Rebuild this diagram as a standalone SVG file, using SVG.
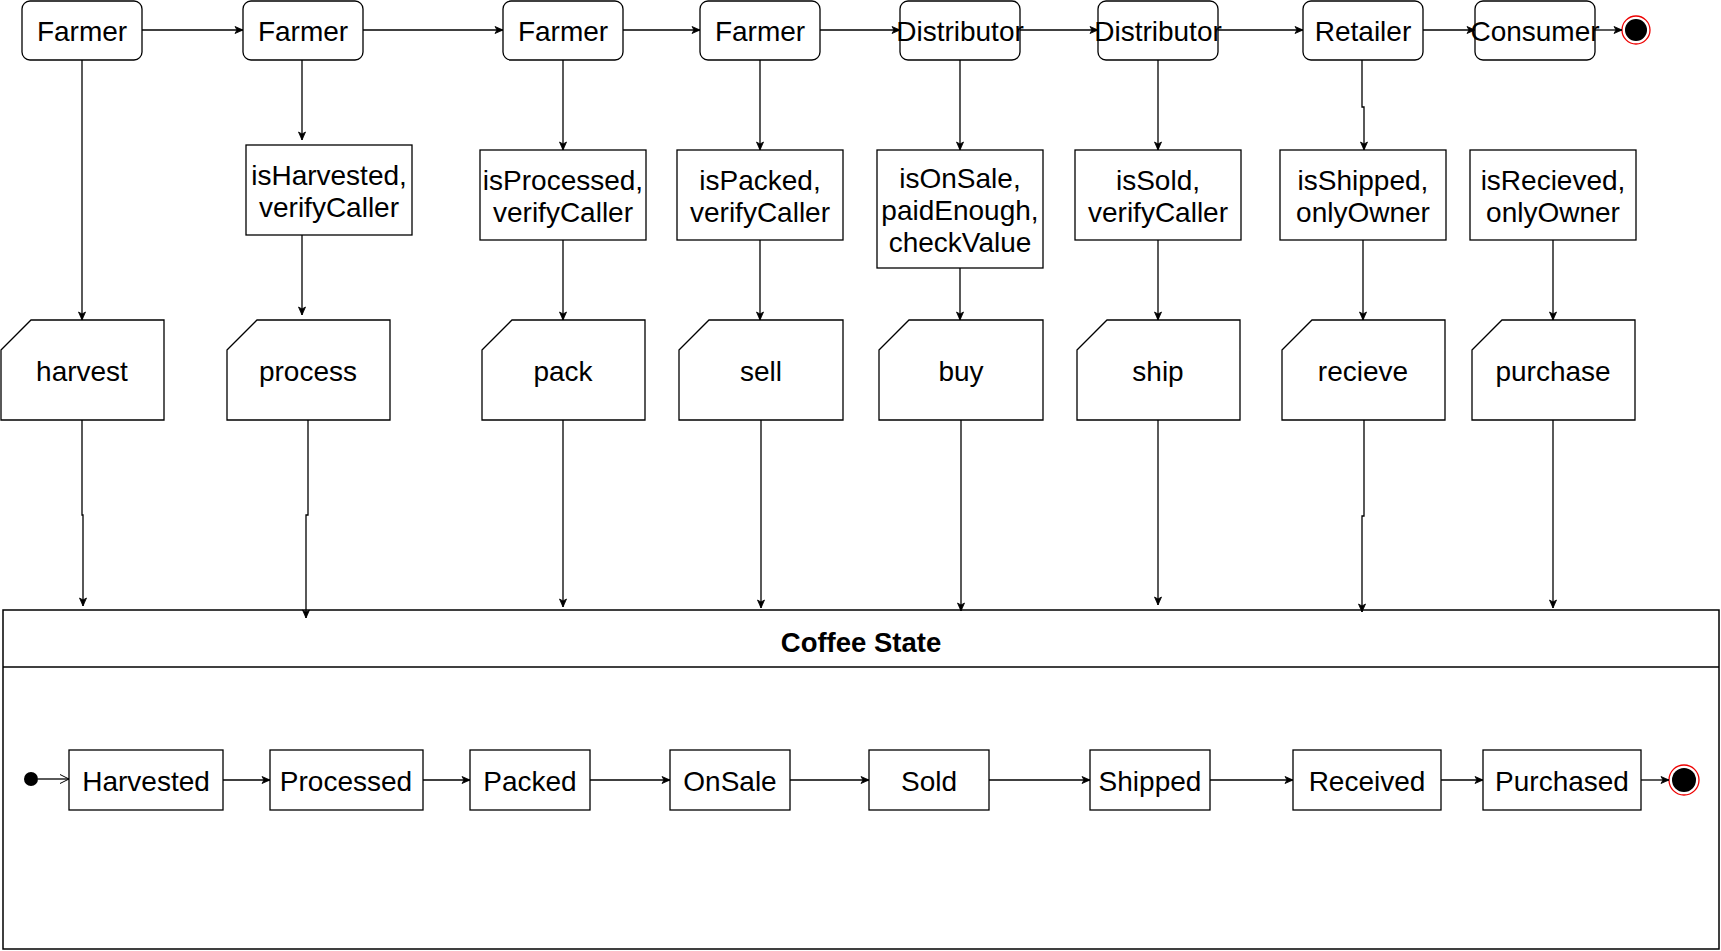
<svg xmlns="http://www.w3.org/2000/svg" width="1721" height="951" viewBox="0 0 1721 951">
<style>
  .box{fill:#fff;stroke:#000;stroke-width:1.3}
  .t{font-family:"Liberation Sans",Arial,Helvetica,sans-serif;font-size:28px;fill:#000;text-anchor:middle;dominant-baseline:central}
  .b{font-weight:bold;font-size:27.5px}
  .e{fill:none;stroke:#000;stroke-width:1.3}
</style>
<defs>
  <marker id="arr" markerUnits="userSpaceOnUse" markerWidth="10" markerHeight="10" viewBox="0 0 10 10" refX="9" refY="5" orient="auto">
    <path d="M1,1.5 L9,5 L1,8.5 L3,5 Z" fill="#000" stroke="#000" stroke-width="0.8"/>
  </marker>
  <marker id="open" markerUnits="userSpaceOnUse" markerWidth="12" markerHeight="12" viewBox="0 0 12 12" refX="10" refY="6" orient="auto">
    <path d="M1,1.5 L10,6 L1,10.5" fill="none" stroke="#000" stroke-width="1"/>
  </marker>
</defs>
<rect width="1721" height="951" fill="#fff"/>

<!-- Container -->
<g id="coffee-state">
  <rect x="3" y="610" width="1716" height="339" fill="#fff" stroke="#000" stroke-width="1.5"/>
  <line x1="3" y1="667" x2="1719" y2="667" stroke="#000" stroke-width="1.3"/>
  <text class="t b" x="861" y="642">Coffee State</text>
</g>

<!-- Top row actors -->
<g id="farmer1"><rect class="box" x="22" y="1" width="120" height="59" rx="8"/><text class="t" x="82" y="31.5">Farmer</text></g>
<g id="farmer2"><rect class="box" x="243" y="1" width="120" height="59" rx="8"/><text class="t" x="303" y="31.5">Farmer</text></g>
<g id="farmer3"><rect class="box" x="503" y="1" width="120" height="59" rx="8"/><text class="t" x="563" y="31.5">Farmer</text></g>
<g id="farmer4"><rect class="box" x="700" y="1" width="120" height="59" rx="8"/><text class="t" x="760" y="31.5">Farmer</text></g>
<g id="distributor1"><rect class="box" x="900" y="1" width="120" height="59" rx="8"/><text class="t" x="960" y="31.5">Distributor</text></g>
<g id="distributor2"><rect class="box" x="1098" y="1" width="120" height="59" rx="8"/><text class="t" x="1158" y="31.5">Distributor</text></g>
<g id="retailer"><rect class="box" x="1303" y="1" width="120" height="59" rx="8"/><text class="t" x="1363" y="31.5">Retailer</text></g>
<g id="consumer"><rect class="box" x="1475" y="1" width="120" height="59" rx="8"/><text class="t" x="1535" y="31.5">Consumer</text></g>
<g id="end-top"><circle cx="1636" cy="30" r="14" fill="#fff" stroke="#e00" stroke-width="1.3"/><circle cx="1636" cy="30" r="11" fill="#000"/></g>

<!-- Guards -->
<g id="g-harvested"><rect class="box" x="246" y="145" width="166" height="90"/><text class="t" x="329" y="175.5">isHarvested,</text><text class="t" x="329" y="207.5">verifyCaller</text></g>
<g id="g-processed"><rect class="box" x="480" y="150" width="166" height="90"/><text class="t" x="563" y="180.5">isProcessed,</text><text class="t" x="563" y="212.5">verifyCaller</text></g>
<g id="g-packed"><rect class="box" x="677" y="150" width="166" height="90"/><text class="t" x="760" y="180.5">isPacked,</text><text class="t" x="760" y="212.5">verifyCaller</text></g>
<g id="g-onsale"><rect class="box" x="877" y="150" width="166" height="118"/><text class="t" x="960" y="178.5">isOnSale,</text><text class="t" x="960" y="210.5">paidEnough,</text><text class="t" x="960" y="242.5">checkValue</text></g>
<g id="g-sold"><rect class="box" x="1075" y="150" width="166" height="90"/><text class="t" x="1158" y="180.5">isSold,</text><text class="t" x="1158" y="212.5">verifyCaller</text></g>
<g id="g-shipped"><rect class="box" x="1280" y="150" width="166" height="90"/><text class="t" x="1363" y="180.5">isShipped,</text><text class="t" x="1363" y="212.5">onlyOwner</text></g>
<g id="g-recieved"><rect class="box" x="1470" y="150" width="166" height="90"/><text class="t" x="1553" y="180.5">isRecieved,</text><text class="t" x="1553" y="212.5">onlyOwner</text></g>

<!-- Functions -->
<g id="f-harvest"><path class="box" d="M1,350 L31,320 H164 V420 H1 Z"/><text class="t" x="82" y="371.5">harvest</text></g>
<g id="f-process"><path class="box" d="M227,350 L257,320 H390 V420 H227 Z"/><text class="t" x="308" y="371.5">process</text></g>
<g id="f-pack"><path class="box" d="M482,350 L512,320 H645 V420 H482 Z"/><text class="t" x="563" y="371.5">pack</text></g>
<g id="f-sell"><path class="box" d="M679,350 L709,320 H843 V420 H679 Z"/><text class="t" x="761" y="371.5">sell</text></g>
<g id="f-buy"><path class="box" d="M879,350 L909,320 H1043 V420 H879 Z"/><text class="t" x="961" y="371.5">buy</text></g>
<g id="f-ship"><path class="box" d="M1077,350 L1107,320 H1240 V420 H1077 Z"/><text class="t" x="1158" y="371.5">ship</text></g>
<g id="f-recieve"><path class="box" d="M1282,350 L1312,320 H1445 V420 H1282 Z"/><text class="t" x="1363" y="371.5">recieve</text></g>
<g id="f-purchase"><path class="box" d="M1472,350 L1502,320 H1635 V420 H1472 Z"/><text class="t" x="1553" y="371.5">purchase</text></g>

<!-- States -->
<g id="s-initial"><circle cx="31" cy="779" r="7" fill="#000"/></g>
<g id="s-harvested"><rect class="box" x="69" y="750" width="154" height="60"/><text class="t" x="146" y="781.5">Harvested</text></g>
<g id="s-processed"><rect class="box" x="270" y="750" width="153" height="60"/><text class="t" x="346" y="781.5">Processed</text></g>
<g id="s-packed"><rect class="box" x="470" y="750" width="120" height="60"/><text class="t" x="530" y="781.5">Packed</text></g>
<g id="s-onsale"><rect class="box" x="670" y="750" width="120" height="60"/><text class="t" x="730" y="781.5">OnSale</text></g>
<g id="s-sold"><rect class="box" x="869" y="750" width="120" height="60"/><text class="t" x="929" y="781.5">Sold</text></g>
<g id="s-shipped"><rect class="box" x="1090" y="750" width="120" height="60"/><text class="t" x="1150" y="781.5">Shipped</text></g>
<g id="s-received"><rect class="box" x="1293" y="750" width="148" height="60"/><text class="t" x="1367" y="781.5">Received</text></g>
<g id="s-purchased"><rect class="box" x="1483" y="750" width="158" height="60"/><text class="t" x="1562" y="781.5">Purchased</text></g>
<g id="s-final"><circle cx="1684" cy="780" r="15" fill="#fff" stroke="#e00" stroke-width="1.3"/><circle cx="1684" cy="780" r="12" fill="#000"/></g>

<!-- Connectors -->
<g id="connectors">
  <path class="e" marker-end="url(#arr)" d="M142,30 H243"/>
  <path class="e" marker-end="url(#arr)" d="M363,30 H503"/>
  <path class="e" marker-end="url(#arr)" d="M623,30 H700"/>
  <path class="e" marker-end="url(#arr)" d="M820,30 H900"/>
  <path class="e" marker-end="url(#arr)" d="M1020,30 H1098"/>
  <path class="e" marker-end="url(#arr)" d="M1218,30 H1303"/>
  <path class="e" marker-end="url(#arr)" d="M1423,30 H1475"/>
  <path class="e" marker-end="url(#arr)" d="M1595,30 H1622"/>

  <path class="e" marker-end="url(#arr)" d="M82,60 V320"/>
  <path class="e" marker-end="url(#arr)" d="M302,60 V140"/>
  <path class="e" marker-end="url(#arr)" d="M302,235 V315"/>
  <path class="e" marker-end="url(#arr)" d="M563,60 V150"/>
  <path class="e" marker-end="url(#arr)" d="M563,240 V320"/>
  <path class="e" marker-end="url(#arr)" d="M760,60 V150"/>
  <path class="e" marker-end="url(#arr)" d="M760,240 V320"/>
  <path class="e" marker-end="url(#arr)" d="M960,60 V150"/>
  <path class="e" marker-end="url(#arr)" d="M960,268 V320"/>
  <path class="e" marker-end="url(#arr)" d="M1158,60 V150"/>
  <path class="e" marker-end="url(#arr)" d="M1158,240 V320"/>
  <path class="e" marker-end="url(#arr)" d="M1362,60 V107 H1364 V150"/>
  <path class="e" marker-end="url(#arr)" d="M1363,240 V320"/>
  <path class="e" marker-end="url(#arr)" d="M1553,240 V320"/>

  <path class="e" marker-end="url(#arr)" d="M82,420 V515 H83 V606"/>
  <path class="e" marker-end="url(#arr)" d="M308,420 V515 H306 V618"/>
  <path class="e" marker-end="url(#arr)" d="M563,420 V607"/>
  <path class="e" marker-end="url(#arr)" d="M761,420 V608"/>
  <path class="e" marker-end="url(#arr)" d="M961,420 V611"/>
  <path class="e" marker-end="url(#arr)" d="M1158,420 V605"/>
  <path class="e" marker-end="url(#arr)" d="M1364,420 V516 H1362 V612"/>
  <path class="e" marker-end="url(#arr)" d="M1553,420 V608"/>

  <path class="e" marker-end="url(#open)" d="M38,779 H69"/>
  <path class="e" marker-end="url(#arr)" d="M223,780 H270"/>
  <path class="e" marker-end="url(#arr)" d="M423,780 H470"/>
  <path class="e" marker-end="url(#arr)" d="M590,780 H670"/>
  <path class="e" marker-end="url(#arr)" d="M790,780 H869"/>
  <path class="e" marker-end="url(#arr)" d="M989,780 H1090"/>
  <path class="e" marker-end="url(#arr)" d="M1210,780 H1293"/>
  <path class="e" marker-end="url(#arr)" d="M1441,780 H1483"/>
  <path class="e" marker-end="url(#arr)" d="M1641,780 H1669"/>
</g>
</svg>
